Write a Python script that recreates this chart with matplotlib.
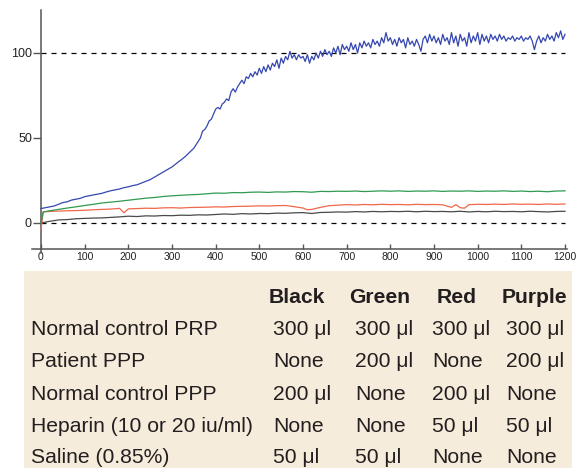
import matplotlib
matplotlib.use("Agg")
import matplotlib.pyplot as plt
from matplotlib.patches import Rectangle

plt.rcParams['font.family'] = ['Liberation Sans', 'DejaVu Sans']

# ---------------- data ----------------
# blue: every 10 s up to 340 s, then every 5 s
blue_t = list(range(0, 350, 10)) + list(range(350, 1201, 5))
blue_v = [8.5, 9, 9.5, 10, 11, 12, 12.5, 13.5, 14, 14.5,
          15.5, 16, 16.5, 17, 17.5, 18.3, 19, 19.5, 20, 20.8,
          21.3, 22, 22.5, 23.5, 24.5, 25.5, 27, 28.5, 30, 31.5,
          33, 35, 37, 39, 41.5,
          44, 46, 48, 50, 54, 55, 57, 60, 61, 64,
          67, 68, 67, 70, 71, 73, 72, 77, 79, 77,
          80, 82, 84, 82, 86, 85, 88, 86, 89, 87,
          91, 88, 92, 89, 93, 90, 94, 92, 96, 91,
          97, 94, 98, 96, 101, 97, 99, 96, 99, 97,
          98, 95, 99, 94, 98, 96, 100, 97, 101, 98,
          102, 99, 101, 98, 103, 100, 104, 99, 105, 102,
          104, 101, 106, 102, 105, 100, 106, 103, 107, 104,
          106, 103, 108, 105, 107, 104, 109, 106, 112, 107,
          109, 105, 108, 104, 109, 106, 108, 103, 109, 105,
          107, 104, 108, 105, 101, 108, 110, 106, 111, 107,
          110, 106, 109, 105, 111, 107, 109, 105, 112, 106,
          110, 104, 111, 107, 109, 104, 112, 106, 110, 107,
          112, 105, 111, 107, 110, 106, 111, 108, 110, 107,
          111, 108, 110, 107, 109, 108, 110, 107, 109, 108,
          110, 107, 109, 108, 110, 107, 102, 107, 110, 106,
          109, 107, 111, 108, 110, 107, 112, 109, 113, 108,
          111]

green_t = [0, 5] + list(range(20, 1201, 20))
green_v = [0, 6.5, 7.2, 8, 8.8, 9.5, 10.3, 11, 11.8, 12.3, 12.8,
           13.4, 14, 14.6, 15, 15.6, 16, 16.3, 16.6, 16.8, 17.2,
           17.6, 17.5, 17.9, 17.8, 18.1, 18.2, 18, 18.3, 18.2, 18.5,
           18.4, 18.1, 18.6, 18.5, 18.7, 18.6, 18.8, 18.5, 18.7, 18.9,
           18.7, 18.9, 18.6, 18.8, 18.7, 18.9, 18.6, 18.8, 18.7, 18.9,
           18.6, 18.8, 18.7, 18.9, 18.6, 18.8, 18.5, 18.7, 18.4, 18.8,
           18.9]

red_t = [0, 5, 20, 40, 60, 80, 100, 120, 140, 160, 180, 190, 200, 220, 240,
         260, 280, 300, 320, 340, 360, 380, 400, 420, 440, 460, 480, 500,
         520, 540, 560, 580, 600, 610, 620, 640, 660, 680, 700, 720, 740,
         760, 780, 800, 820, 840, 860, 880, 900, 920, 940, 950, 960, 970,
         980, 1000, 1020, 1040, 1060, 1080, 1100, 1120, 1140, 1160, 1180, 1200]
red_v = [-4, 6.5, 6.8, 7, 7.2, 7.3, 7.5, 7.8, 8, 8.2, 8.6, 6, 8.3, 8.5, 8.7,
         8.6, 8.9, 9, 8.8, 9.1, 9.2, 9.3, 9.5, 9.4, 9.7, 9.8, 9.9, 10.1,
         10, 10.2, 10.3, 9.6, 8.8, 7.8, 8, 9.2, 10.2, 10.5, 10.8, 10.6, 10.9,
         10.7, 11, 10.8, 10.9, 10.7, 11, 10.8, 10.9, 10.7, 9.2, 10.8, 9, 8.7,
         10.8, 11, 10.9, 11.1, 10.9, 11.2, 11, 11.1, 10.9, 11.2, 11, 11.2]

black_t = [0, 10] + list(range(20, 1201, 20))
black_v = [0, 0.5, 1, 1.8, 2, 2.5, 2.7, 2.9, 3, 3.3, 3.6, 4,
           3.8, 4.2, 4.1, 4.4, 4.3, 4.6, 4.5, 4.8, 4.7, 5,
           5.3, 5.1, 5.5, 5.3, 5.6, 5.5, 5.8, 5.7, 6, 6.1,
           5.6, 6.2, 6.3, 6.5, 6.4, 6.7, 6.5, 6.8, 6.6, 6.8,
           6.7, 6.9, 6.6, 6.9, 6.7, 6.8, 6.6, 6.9, 6.5, 6.8,
           6.6, 6.9, 6.7, 6.8, 6.6, 6.9, 6.7, 6.5, 6.8, 6.9]

ref_levels = [0, 100]
x_ticks = list(range(0, 1201, 100))
y_ticks = [0, 50, 100]

col_headers = ["Black", "Green", "Red", "Purple"]
row_labels = ["Normal control PRP", "Patient PPP", "Normal control PPP",
              "Heparin (10 or 20 iu/ml)", "Saline (0.85%)"]
black_col = ["300 \u03bcl", "None", "200 \u03bcl", "None", "50 \u03bcl"]
green_col = ["300 \u03bcl", "200 \u03bcl", "None", "None", "50 \u03bcl"]
red_col = ["300 \u03bcl", "None", "200 \u03bcl", "50 \u03bcl", "None"]
purple_col = ["300 \u03bcl", "200 \u03bcl", "None", "50 \u03bcl", "None"]

# ---------------- figure ----------------
W, H = 588, 468
fig = plt.figure(figsize=(W / 100, H / 100), dpi=100)

def fx(px):
    return px / W

def fy(py):
    return 1 - py / H

ax_l, ax_r, ax_t, ax_b = 32, 567, 10, 253
ax = fig.add_axes([fx(ax_l), fy(ax_b), (ax_r - ax_l) / W, (ax_b - ax_t) / H])

sx = 524 / 1200.0  # px per second
sy = 1.7           # px per unit
ax.set_xlim(-(41 - ax_l) / sx, 1200 + (ax_r - 565) / sx)
ax.set_ylim(-(ax_b - 223) / sy, (223 - ax_t) / sy)

for lvl in ref_levels:
    ax.plot([0, 1200], [lvl, lvl], color='black', lw=0.9, ls=(0, (4, 4)), zorder=1)

ax.plot(black_t, black_v, color='#4a4a4a', lw=0.9, zorder=2)
ax.plot(red_t, red_v, color='#f0684a', lw=0.9, zorder=3)
ax.plot(green_t, green_v, color='#2f9a50', lw=0.9, zorder=3)
ax.plot(blue_t, blue_v, color='#3447b0', lw=0.9, zorder=4)

for s in ['top', 'right']:
    ax.spines[s].set_visible(False)
ax.spines['left'].set_position(('data', 0))
ax.spines['bottom'].set_position(('data', -(249 - 223) / sy))
for s in ['left', 'bottom']:
    ax.spines[s].set_color('#555555')
    ax.spines[s].set_linewidth(1.1)

ax.set_xticks(x_ticks)
ax.set_xticklabels([str(v) for v in x_ticks])
ax.set_yticks(y_ticks)
ax.set_yticklabels([str(v) for v in y_ticks])
ax.tick_params(axis='x', direction='in', length=3.5, width=1, color='#555555',
               labelsize=7.5, pad=2.5, labelcolor='#222222')
ax.tick_params(axis='y', direction='out', length=6, width=1, color='#555555',
               labelsize=9, pad=0.5, labelcolor='#222222')
ax.patch.set_visible(False)

# ---------------- table ----------------
fig.patches.append(Rectangle((fx(24), fy(468)), (572 - 24) / W, (468 - 271) / H,
                             transform=fig.transFigure, facecolor='#f6ecdb',
                             edgecolor='none', zorder=0))

header_x = [297, 380, 457, 534]
value_x = [273, 355, 432, 506]
header_y = 303
row_y = [335, 367, 400, 432, 463]
fs = 15.2
tc = '#231f20'

for h, xp in zip(col_headers, header_x):
    fig.text(fx(xp), fy(header_y), h, ha='center', va='baseline', fontsize=fs,
             fontweight='bold', color=tc)

cols = [black_col, green_col, red_col, purple_col]
for i, lab in enumerate(row_labels):
    fig.text(fx(31), fy(row_y[i]), lab, ha='left', va='baseline', fontsize=fs, color=tc)
    for col, xp in zip(cols, value_x):
        fig.text(fx(xp), fy(row_y[i]), col[i], ha='left', va='baseline', fontsize=fs, color=tc)

fig.savefig('out.png', dpi=100)
